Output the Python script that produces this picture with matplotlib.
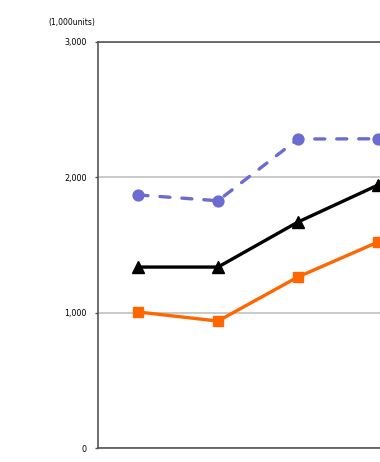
import matplotlib
matplotlib.use("Agg")
import matplotlib.pyplot as plt

periods = [0, 1, 2, 3]
series_circle = [1870, 1827, 2283, 2285]
series_triangle = [1337, 1337, 1670, 1943]
series_square = [1005, 938, 1264, 1522]
yticks = [0, 1000, 2000, 3000]
ytick_labels = ["0", "1,000", "2,000", "3,000"]
unit_label = "(1,000units)"

fig = plt.figure(figsize=(3.8, 4.62), dpi=100)
ax = fig.add_axes([98/380, 1-448/462, 1-98/380, (448-42)/462])

ax.plot(periods, series_circle, color="#6B6BD0", lw=2.4, ls=(0, (3, 3.6)),
        marker="o", ms=7.8, dash_capstyle="round", zorder=3)
ax.plot(periods, series_triangle, color="black", lw=2.4, marker="^", ms=8, zorder=3)
ax.plot(periods, series_square, color="#FF6600", lw=2.4, marker="s", ms=7.5, zorder=3)

ax.set_xlim(-0.5, 3.025)
ax.set_ylim(0, 3000)
ax.set_yticks(yticks)
ax.set_yticklabels(ytick_labels, fontsize=5.8)
ax.set_xticks([])
ax.yaxis.grid(True, color="#C0C0C0", lw=1.2)
ax.set_axisbelow(True)
for s in ["left", "top", "bottom"]:
    ax.spines[s].set_color("#555555")
    ax.spines[s].set_linewidth(1.2)
ax.spines["right"].set_visible(False)
ax.tick_params(axis="y", length=2, width=1, color="#555555", pad=6)

fig.text(48/380, 1-22/462, unit_label, fontsize=5.5, va="center", ha="left")

fig.savefig("out.png", dpi=100)
